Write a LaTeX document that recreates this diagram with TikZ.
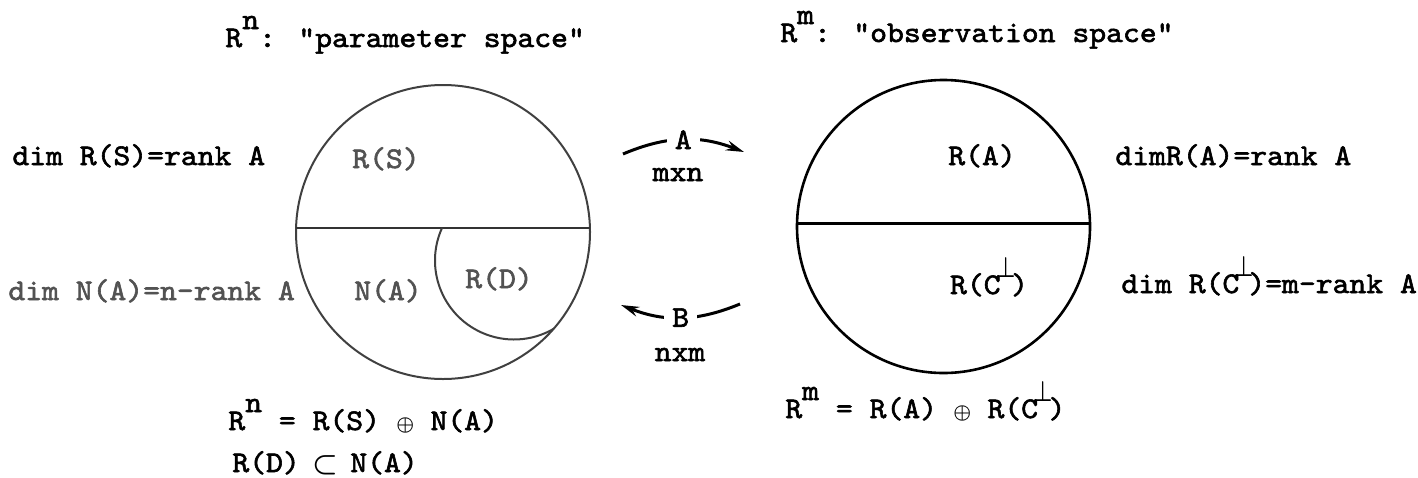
\documentclass[tikz,border=0pt]{standalone}
\usepackage{fontspec}
\usepackage{graphicx}
\usepackage{amsmath}
\newfontfamily\tw{lmmono10-regular}[Extension=.otf, Ligatures=TeXOff, FakeStretch=1.07, FakeBold=2]
\usetikzlibrary{arrows.meta}
\newcommand\sups[1]{\makebox[0.56em][l]{\raisebox{0.6em}{#1}}}
\newcommand\perpup[1][0.35em]{\makebox[#1][c]{\raisebox{0.55em}{\scalebox{0.75}[1]{$\boldsymbol{\perp}$}}}}
\newcommand\opl{\makebox[0.56em]{\fontsize{10}{10}\selectfont$\boldsymbol{\oplus}$}}
\newcommand\sbs{\makebox[0.56em]{$\boldsymbol{\subset}$}}
\begin{document}
\begin{tikzpicture}[x=0.5pt,y=-0.5pt,
  txt/.style={inner sep=0pt, font=\tw\fontsize{15}{17}\selectfont},
  lbl/.style={txt, anchor=base west},
  ctr/.style={txt, anchor=base},
  grey/.style={text=black!68},
  map/.style={line width=1.5pt, -{Stealth[length=9pt,width=5pt,inset=3pt]}, bend left=22},
  tag/.style={txt, fill=white, inner xsep=4pt, inner ysep=1pt},
  lcirc/.style={draw=black!75, line width=1pt},
  rcirc/.style={draw=black, line width=1.3pt},
]
\useasboundingbox (0,0) rectangle (1418,477);

% left space
\draw[lcirc] (443,232) circle[radius=147];
\draw[draw=black!80, line width=1.2pt] (296.1,228) -- (589.9,228);
\draw[lcirc] (442,228) arc[start angle=204.3, end angle=60, radius=79];

% right space
\draw[rcirc] (943.5,226.5) circle[radius=146.5];
\draw[black, line width=1.5pt] (797.04,223) -- (1089.96,223);

% titles
\node[lbl] (t1) at (225,47) {R\sups{n}: "parameter space"};
\node[lbl] (t2) at (780,42) {R\sups{m}: "observation space"};

% side labels
\node[lbl] (dRS) at (12,165) {dim R(S)=rank A};
\node[lbl,grey] (dNA) at (8,300) {dim N(A)=n-rank A};
\node[lbl] (dRA) at (1115,165) {dimR(A)=rank A};
\node[lbl] (dRC) at (1121,293) {dim R(C\perpup[0.3em])=m-rank A};

% region labels
\node[ctr,grey] (RS) at (386,168) {R(S)};
\node[ctr,grey] (NA) at (388,300) {N(A)};
\node[ctr,grey] (RD) at (499,288) {R(D)};
\node[ctr] (RA) at (982,165) {R(A)};
\node[ctr] (RC) at (989,294) {R(C\perpup)};

% formulas
\node[lbl] (f1) at (228,430) {R\sups{n} = R(S) \opl{} N(A)};
\node[lbl] (f2) at (232,472) {R(D) \sbs{} N(A)};
\node[lbl] (f3) at (785,418) {R\sups{m} = R(A) \opl{} R(C\perpup)};

% maps
\coordinate (a1) at (623,154);
\coordinate (a2) at (744,152);
\draw[map] (a1) to node[tag] (A) {A} (a2);
\node[ctr] (mn) at (678,181) {mxn};

\coordinate (b1) at (740,304);
\coordinate (b2) at (621,305);
\draw[map] (b1) to node[tag] (B) {B} (b2);
\node[ctr] (nm) at (680,361) {nxm};
\end{tikzpicture}
\end{document}
